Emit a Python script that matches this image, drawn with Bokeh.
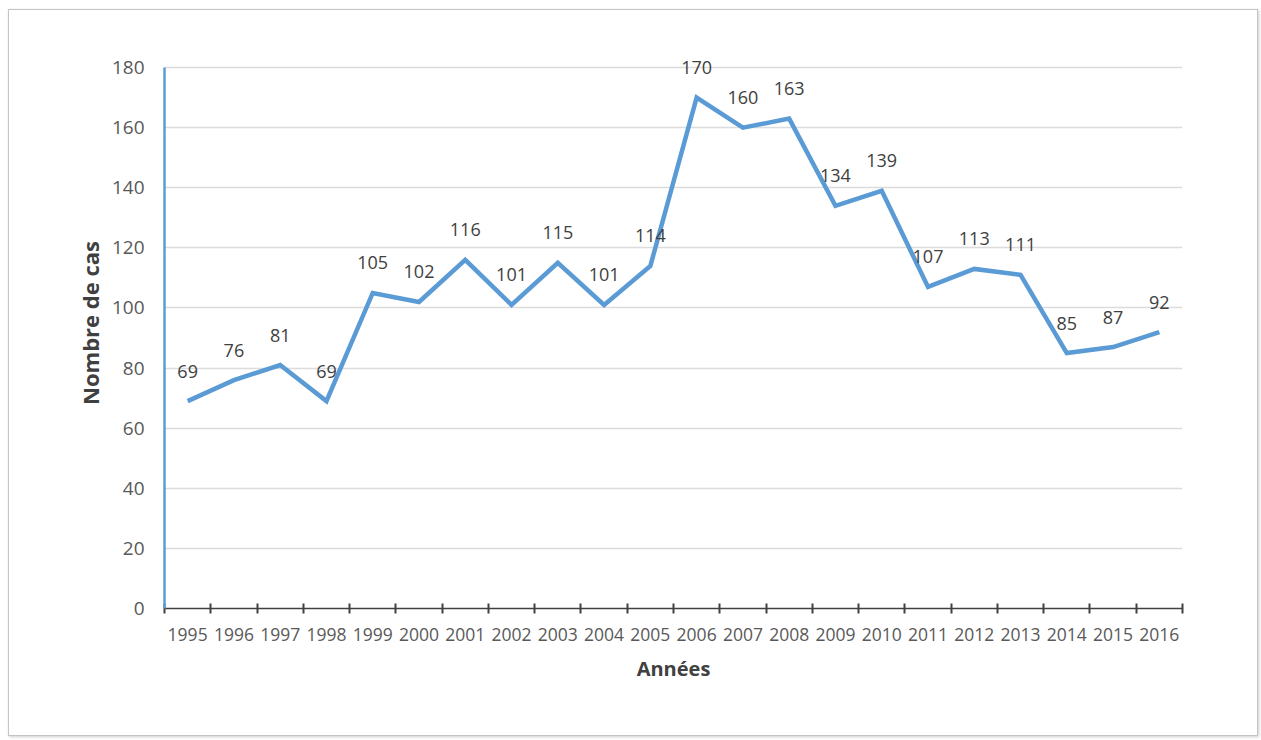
from bokeh.plotting import figure
from bokeh.models import FixedTicker, ColumnDataSource, Range1d, LabelSet
from bokeh.core.properties import value
from bokeh.embed import file_html
from bokeh.resources import INLINE

# Nombre de cas par année
years = ["1995", "1996", "1997", "1998", "1999", "2000", "2001", "2002", "2003", "2004", "2005",
         "2006", "2007", "2008", "2009", "2010", "2011", "2012", "2013", "2014", "2015", "2016"]
cases = [69, 76, 81, 69, 105, 102, 116, 101, 115, 101, 114,
         170, 160, 163, 134, 139, 107, 113, 111, 85, 87, 92]
y_ticks = [0, 20, 40, 60, 80, 100, 120, 140, 160, 180]

FONT = "Open Sans"
BLUE = "#5b9bd5"

# each year sits in the middle of a unit-wide slot
xs = [i + 0.5 for i in range(len(years))]
src = ColumnDataSource(dict(x=xs, y=cases, label=[str(v) for v in cases]))

# the range goes a little past 180 so the top value label has room;
# the axis itself is bounded to 0-180
p = figure(width=1250, height=727, output_backend="svg", toolbar_location=None,
           x_range=Range1d(0, len(years)), y_range=Range1d(0, 190),
           min_border_left=155, min_border_right=77, min_border_top=27, min_border_bottom=129)
p.margin = (9, 0, 0, 8)
p.styles = {"border": "1px solid #c4c4c4", "box-shadow": "1px 1px 3px rgba(0,0,0,0.2)"}
p.outline_line_color = None
p.background_fill_color = "white"
p.border_fill_color = "white"

p.line("x", "y", source=src, line_color=BLUE, line_width=4.5, line_join="miter")

labels = LabelSet(x="x", y="y", text="label", source=src, y_offset=30,
                  text_align="center", text_baseline="middle",
                  text_font=value(FONT), text_font_size="18px", text_color="#404040")
p.add_layout(labels)

# x axis: ticks on slot boundaries, labels in the middle of each slot
xa = p.xaxis[0]
xa.ticker = FixedTicker(ticks=xs, minor_ticks=list(range(len(years) + 1)))
xa.major_label_overrides = {x: y for x, y in zip(xs, years)}
xa.major_tick_line_color = None
xa.minor_tick_line_color = "#404040"
xa.minor_tick_line_width = 2
xa.minor_tick_in = 5
xa.minor_tick_out = 5
xa.axis_line_color = "#404040"
xa.axis_line_width = 1.5
xa.major_label_standoff = 13
xa.major_label_text_font = FONT
xa.major_label_text_font_size = "17.5px"
xa.major_label_text_color = "#595959"
xa.axis_label = "Années"
xa.axis_label_text_font = FONT
xa.axis_label_text_font_size = "20px"
xa.axis_label_text_font_style = "bold"
xa.axis_label_text_color = "#404040"
xa.axis_label_standoff = 11

ya = p.yaxis[0]
ya.ticker = FixedTicker(ticks=y_ticks)
ya.bounds = (0, 180)
ya.major_tick_line_color = None
ya.minor_tick_line_color = None
ya.axis_line_color = BLUE
ya.axis_line_width = 2.5
ya.major_label_standoff = 14
ya.major_label_text_font = FONT
ya.major_label_text_font_size = "19px"
ya.major_label_text_color = "#595959"
ya.axis_label = "Nombre de cas"
ya.axis_label_text_font = FONT
ya.axis_label_text_font_size = "22px"
ya.axis_label_text_font_style = "bold"
ya.axis_label_text_color = "#404040"
ya.axis_label_standoff = 4

p.xgrid.grid_line_color = None
p.ygrid.grid_line_color = "#dcdcdc"
p.ygrid.grid_line_width = 1.5

open("out.html", "w").write(file_html(p, INLINE))
